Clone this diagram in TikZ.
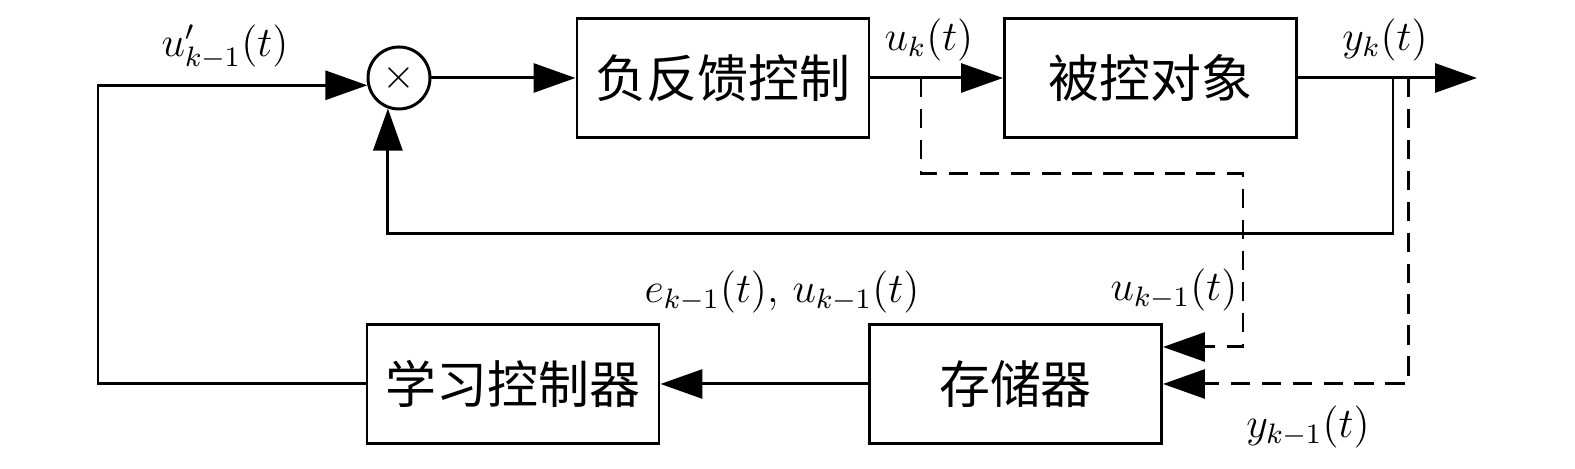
\documentclass[tikz,border=0pt]{standalone}
\usepackage{fontspec}
\newfontfamily\cjk{Noto Sans CJK SC}
\usepackage{tikz}
\usetikzlibrary{arrows.meta}
\tikzstyle{block} = [draw=black, line width=0.85pt, minimum width=2.92cm, minimum height=1.19cm, font={\cjk\fontsize{14.5}{16}\selectfont}]
\tikzstyle{mult} = [draw=black, line width=0.85pt, circle, minimum size=0.62cm, inner sep=0pt, font={\fontsize{13}{13}\selectfont}]
\tikzstyle{sig} = [font={\fontsize{12}{14}\selectfont}]
\tikzstyle{wire} = [line width=0.85pt, -{Triangle[length=4.2mm,width=2.9mm]}]
\tikzstyle{memline} = [wire, dash pattern=on 5.5pt off 3.3pt]

\begin{document}
\begin{tikzpicture}
    \useasboundingbox (0,0) rectangle (15.75,-4.69);
    \node[mult](mix) at (3.99,-0.78){$\times$};
    \node[block](fbc) at (7.23,-0.78){负反馈控制};
    \node[block](plant) at (11.505,-0.78){被控对象};
    \node[block](mem) at (10.155,-3.84){存储器};
    \node[block](ilc) at (5.13,-3.84){学习控制器};
    \coordinate (out) at (14.77,-0.78);
    \coordinate (c1) at (0.98,-3.84);
    \coordinate (fb) at (13.93,-0.78);
    \coordinate (fb1) at (13.93,-2.34);
    \coordinate (du) at (9.21,-0.78);
    \coordinate (du1) at (9.21,-1.74);
    \coordinate (du2) at (12.43,-1.74);
    \coordinate (du3) at (12.43,-3.47);
    \coordinate (dy) at (14.08,-0.78);
    \coordinate (dy1) at (14.08,-3.84);
    % labels
    \node[sig](l0) at (2.25,-0.47){$u'_{k-1}(t)$};
    \node[sig](l1) at (9.29,-0.40){$u_k(t)$};
    \node[sig](l2) at (13.85,-0.40){$y_k(t)$};
    \node[sig](l3) at (7.82,-2.92){$e_{k-1}(t),\, u_{k-1}(t)$};
    \node[sig](l4) at (11.74,-2.90){$u_{k-1}(t)$};
    \node[sig](l5) at (13.08,-4.27){$y_{k-1}(t)$};
    % forward path
    \draw[wire](mix)--(fbc);
    \draw[wire](fbc)--(plant);
    \draw[wire](plant)--(out);
    \draw[wire](fb)--(fb1)-|(mix.250);
    % learning loop
    \draw[wire](mem)--(ilc);
    \draw[wire](ilc.west)--(c1)|-(mix.193);
    \draw[memline](du)--(du1)--(du2)--(du3)--(du3-|mem.east);
    \draw[memline](dy)--(dy1)--(mem.east);
\end{tikzpicture}
\end{document}
